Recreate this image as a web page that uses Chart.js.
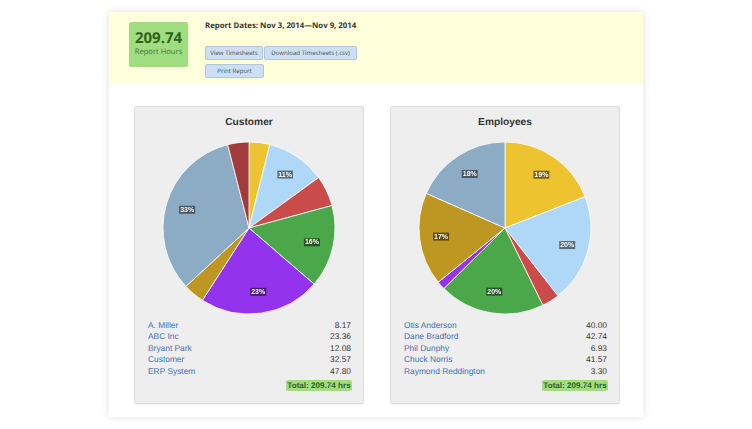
<!DOCTYPE html>
<html>
<head>
<meta charset="utf-8">
<title>Report</title>
<script src="https://cdn.jsdelivr.net/npm/chart.js@4"></script>
<style>
  html, body { margin: 0; padding: 0; background: #fff; }
  body { width: 752px; height: 429px; position: relative; overflow: hidden; font-family: "Liberation Sans", Arial, sans-serif; text-rendering: geometricPrecision; }
  #card { position: absolute; left: 109px; top: 12px; width: 534px; height: 405px; background: #fff; box-shadow: 0 0 8px rgba(0,0,0,0.13); }
  #head { position: absolute; left: 109px; top: 12px; width: 534px; height: 72px; background: #ffffdc; }
  #hours { position: absolute; left: 129px; top: 22px; width: 59px; height: 45px; background: #9fdd80; border-radius: 2px; text-align: center; font-family: "Open Sans", sans-serif; }
  #hours b { display: block; margin-top: 8px; font-size: 15px; line-height: 17px; color: #2e6419; }
  #hours span { display: block; font-size: 7.6px; line-height: 11px; color: #44763a; }
  #dates { position: absolute; left: 205px; top: 20.5px; font: bold 7.8px/11px "Open Sans", sans-serif; color: #333; }
  .btn { position: absolute; height: 12px; background: #cde0f2; border: 1px solid #aec6da; border-radius: 2px; font: 6.1px/12px "Open Sans", sans-serif; color: #3d4d5c; text-align: center; }
  .panel { position: absolute; top: 106px; width: 228px; height: 296px; background: #eee; border: 1px solid #ddd; border-radius: 3px; box-shadow: 0 1px 1px rgba(0,0,0,0.05); }
  .panel h3 { margin: 0; position: absolute; left: 0; right: 0; top: 8.5px; text-align: center; font-size: 10.2px; line-height: 14px; color: #333; }
  .panel canvas { position: absolute; left: 24px; top: 31px; }
  .row { position: absolute; left: 13px; right: 12px; height: 11px; font-size: 8.4px; line-height: 11px; color: #333; }
  .row a { color: #3f6fb5; }
  .row span { position: absolute; right: 0; }
  .total { position: absolute; right: 11px; top: 273px; width: 66px; height: 11px; background: #9fdd80; border-radius: 2px; font: bold 8.1px/11px "Liberation Sans", Arial, sans-serif; color: #2e6419; text-align: center; }
</style>
</head>
<body>
<div id="card"></div>
<div id="head"></div>
<div id="hours"><b>209.74</b><span>Report Hours</span></div>
<div id="dates">Report Dates: Nov 3, 2014—Nov 9, 2014</div>
<div class="btn" style="left:205px;top:46px;width:56px">View Timesheets</div>
<div class="btn" style="left:264px;top:46px;width:91px">Download Timesheets (.csv)</div>
<div class="btn" style="left:205px;top:64px;width:57px">Print Report</div>

<div class="panel" style="left:134px"><h3>Customer</h3><canvas id="customerChart" width="180" height="180"></canvas><div id="customerRows"></div><div class="total">Total: 209.74 hrs</div></div>
<div class="panel" style="left:390px"><h3>Employees</h3><canvas id="employeeChart" width="180" height="180"></canvas><div id="employeeRows"></div><div class="total">Total: 209.74 hrs</div></div>

<script>
// values, the unnamed slices are estimates
const customerNames = ['A. Miller', 'ABC Inc', 'Bryant Park', 'Customer', 'ERP System'];
const customerHours = [8.17, 23.36, 12.08, 32.57, 47.80, 8.4, 69.0, 8.36];
const employeeNames = ['Otis Anderson', 'Dane Bradford', 'Phil Dunphy', 'Chuck Norris', 'Raymond Reddington'];
const employeeHours = [40.00, 42.74, 6.93, 41.57, 3.30, 36.6, 38.6];
const sliceColors = ['#edc42f', '#afd8f8', '#cb4b4b', '#4aa84a', '#9433ed', '#bd9722', '#8cacc6', '#a23c3c'];

// percent labels on the big slices, with a dark box behind the text
const percentLabels = {
    id: 'percentLabels',
    afterDatasetsDraw(chart) {
        const ctx = chart.ctx;
        const data = chart.data.datasets[0].data;
        const total = data.reduce((a, b) => a + b, 0);
        chart.getDatasetMeta(0).data.forEach((arc, i) => {
            const pct = data[i] / total * 100;
            if (pct < 10) return;
            const mid = (arc.startAngle + arc.endAngle) / 2;
            const x = arc.x + Math.cos(mid) * arc.outerRadius * 0.75;
            const y = arc.y + Math.sin(mid) * arc.outerRadius * 0.75;
            const text = Math.round(pct) + '%';
            ctx.save();
            ctx.font = 'bold 7px "Liberation Sans", Arial, sans-serif';
            ctx.textAlign = 'center';
            ctx.textBaseline = 'middle';
            const w = ctx.measureText(text).width + 2;
            ctx.fillStyle = 'rgba(0, 0, 0, 0.5)';
            ctx.fillRect(x - w / 2, y - 4, w, 8);
            ctx.fillStyle = '#fff';
            ctx.fillText(text, x, y);
            ctx.restore();
        });
    }
};

function makePie(id, values) {
    new Chart(document.getElementById(id), {
        type: 'pie',
        data: {
            labels: values.map((v, i) => 'Slice ' + (i + 1)),
            datasets: [{
                data: values,
                backgroundColor: sliceColors.slice(0, values.length),
                borderColor: '#fff',
                borderWidth: 0.8
            }]
        },
        options: {
            responsive: false,
            animation: false,
            radius: 86,
            plugins: { legend: { display: false }, tooltip: { enabled: false } }
        },
        plugins: [percentLabels]
    });
}

function makeRows(id, names, values) {
    const box = document.getElementById(id);
    names.forEach((name, i) => {
        const row = document.createElement('div');
        row.className = 'row';
        row.style.top = (212.5 + i * 11.5) + 'px';
        row.innerHTML = '<a>' + name + '</a><span>' + values[i].toFixed(2) + '</span>';
        box.appendChild(row);
    });
}

makePie('customerChart', customerHours);
makePie('employeeChart', employeeHours);
makeRows('customerRows', customerNames, customerHours);
makeRows('employeeRows', employeeNames, employeeHours);
</script>
</body>
</html>
